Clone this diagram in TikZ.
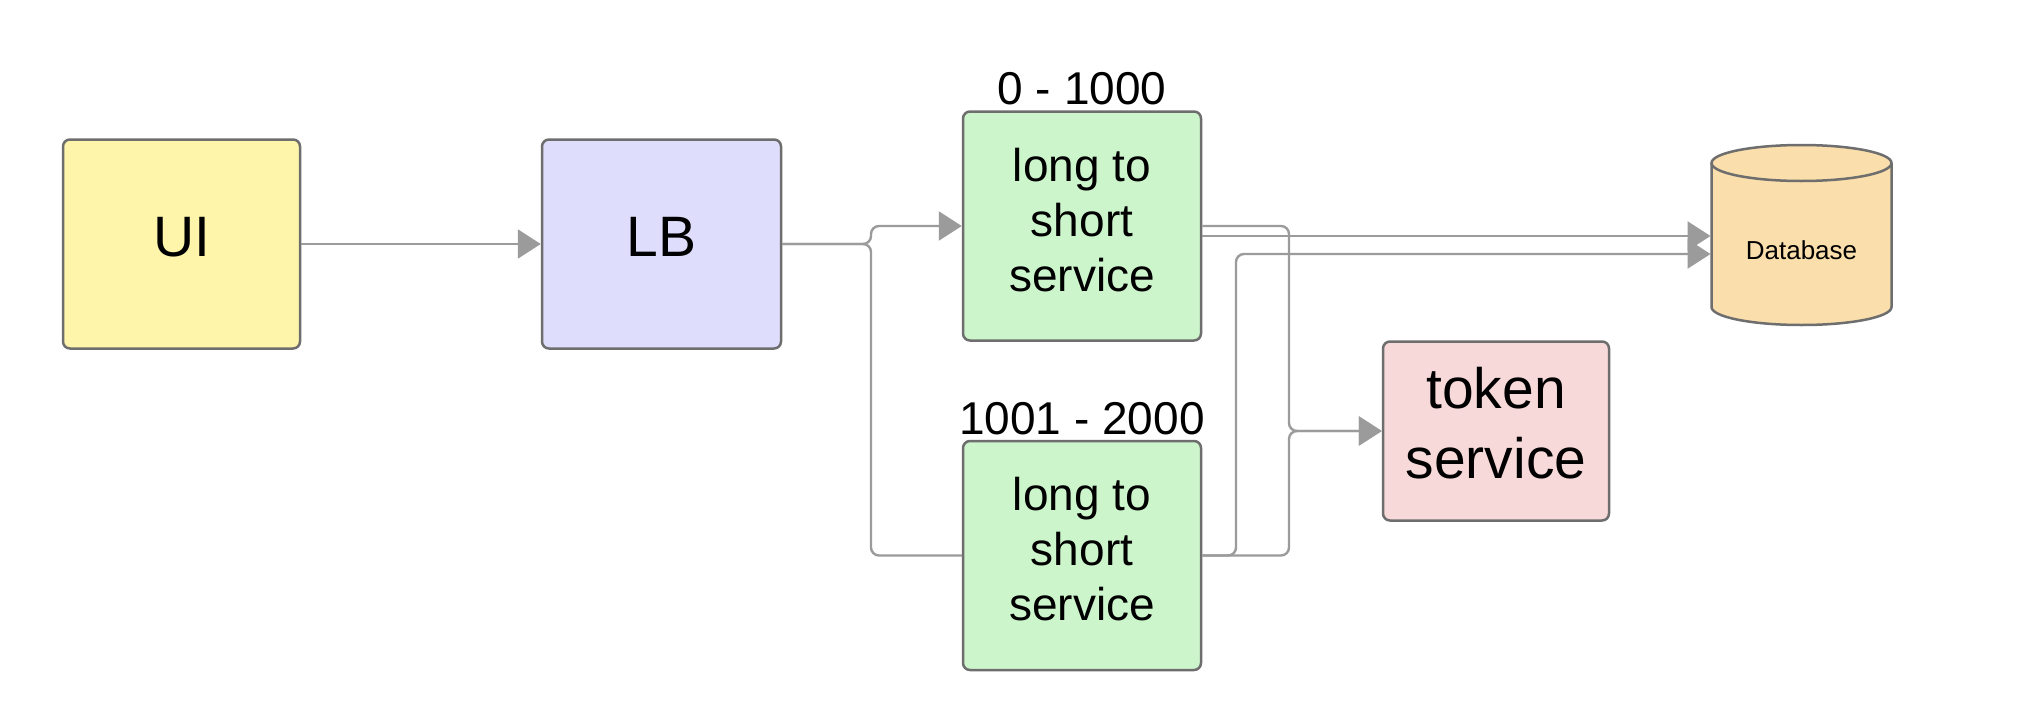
\documentclass[tikz,border=0pt]{standalone}
\usepackage{fontspec}
\setmainfont{Liberation Sans}
\usetikzlibrary{arrows.meta}
\definecolor{bordergray}{HTML}{6E6E6E}
\definecolor{linegray}{HTML}{9B9B9B}
\definecolor{uifill}{HTML}{FEF5AB}
\definecolor{lbfill}{HTML}{DEDDFB}
\definecolor{svcfill}{HTML}{CCF5CC}
\definecolor{tokfill}{HTML}{F8D9DA}
\definecolor{dbfill}{HTML}{FADEAB}
\begin{document}
\begin{tikzpicture}[x=1pt,y=-1pt,
  box/.style={draw=bordergray, line width=2.5pt, rounded corners=7pt, inner sep=0pt},
  bigtxt/.style={font=\fontsize{57}{70}\selectfont, align=center, inner sep=0pt},
  svctxt/.style={font=\fontsize{46}{55}\selectfont, align=center, inner sep=0pt},
  conn/.style={draw=linegray, line width=2.4pt, rounded corners=8pt},
  arr/.style={-{Triangle[length=23pt,width=29pt]}}]
\useasboundingbox[fill=white] (0,0) rectangle (2020,712);

% boxes
\node[box, fill=uifill, minimum width=237, minimum height=209] (ui) at (181.5,244) {};
\node[box, fill=lbfill, minimum width=239, minimum height=209] (lb) at (661.5,244) {};
\node[box, fill=svcfill, minimum width=238, minimum height=229] (g1) at (1082,226) {};
\node[box, fill=svcfill, minimum width=238, minimum height=229] (g2) at (1082,555.5) {};
\node[box, fill=tokfill, minimum width=226, minimum height=179] (tok) at (1496,431) {};

% box texts
\node[bigtxt] (uit) at ([yshift=7pt]ui.center) {UI};
\node[bigtxt] (lbt) at ([yshift=7pt]lb.center) {LB};
\node[svctxt] (g1t) at ([yshift=6pt]g1.center) {long to\\short\\service};
\node[svctxt] (g2t) at ([yshift=6pt]g2.center) {long to\\short\\service};
\node[bigtxt] (tokt) at ([yshift=8pt]tok.center) {token\\service};

% labels above services
\node[svctxt] (l1) at (1082,89) {0 - 1000};
\node[svctxt] (l2) at (1082,419) {1001 - 2000};

% database cylinder
\path[fill=dbfill, draw=bordergray, line width=2.5pt, line join=round]
  (1711.5,163) -- (1711.5,307) arc[start angle=180,end angle=0,x radius=90,y radius=18]
  -- (1891.5,163) arc[start angle=0,end angle=-180,x radius=90,y radius=18] -- cycle;
\draw[bordergray, line width=2.5pt] (1711.5,163) arc[start angle=180,end angle=0,x radius=90,y radius=18];
\node[minimum width=182, minimum height=180, inner sep=0pt, outer sep=0pt] (db) at (1801.5,235) {};
\node[font=\fontsize{26}{30}\selectfont, inner sep=0pt] (dbt) at (1801.5,250) {Database};

% junction coordinates
\coordinate (jl) at (871,0);
\coordinate (jt) at (1289,0);
\coordinate (jd) at (1236,0);
\coordinate (dbin1) at (1710.5,236);
\coordinate (dbin2) at (1710.5,254);

% connectors
\draw[conn, arr] (ui) -- (lb);
\draw[conn, arr] (lb.east) -- (lb.east -| jl) |- (g1.west);
\draw[conn] (lb.east) -- (lb.east -| jl) |- (g2.west);
\draw[conn, arr] (g1.east) -- (g1.east -| jt) |- (tok.west);
\draw[conn, arr] (g1.east |- dbin1) -- (dbin1);
\draw[conn, arr] (g2.east) -- (g2.east -| jd) |- (dbin2);
\draw[conn, arr] (g2.east) -- (g2.east -| jt) |- (tok.west);
\end{tikzpicture}
\end{document}
